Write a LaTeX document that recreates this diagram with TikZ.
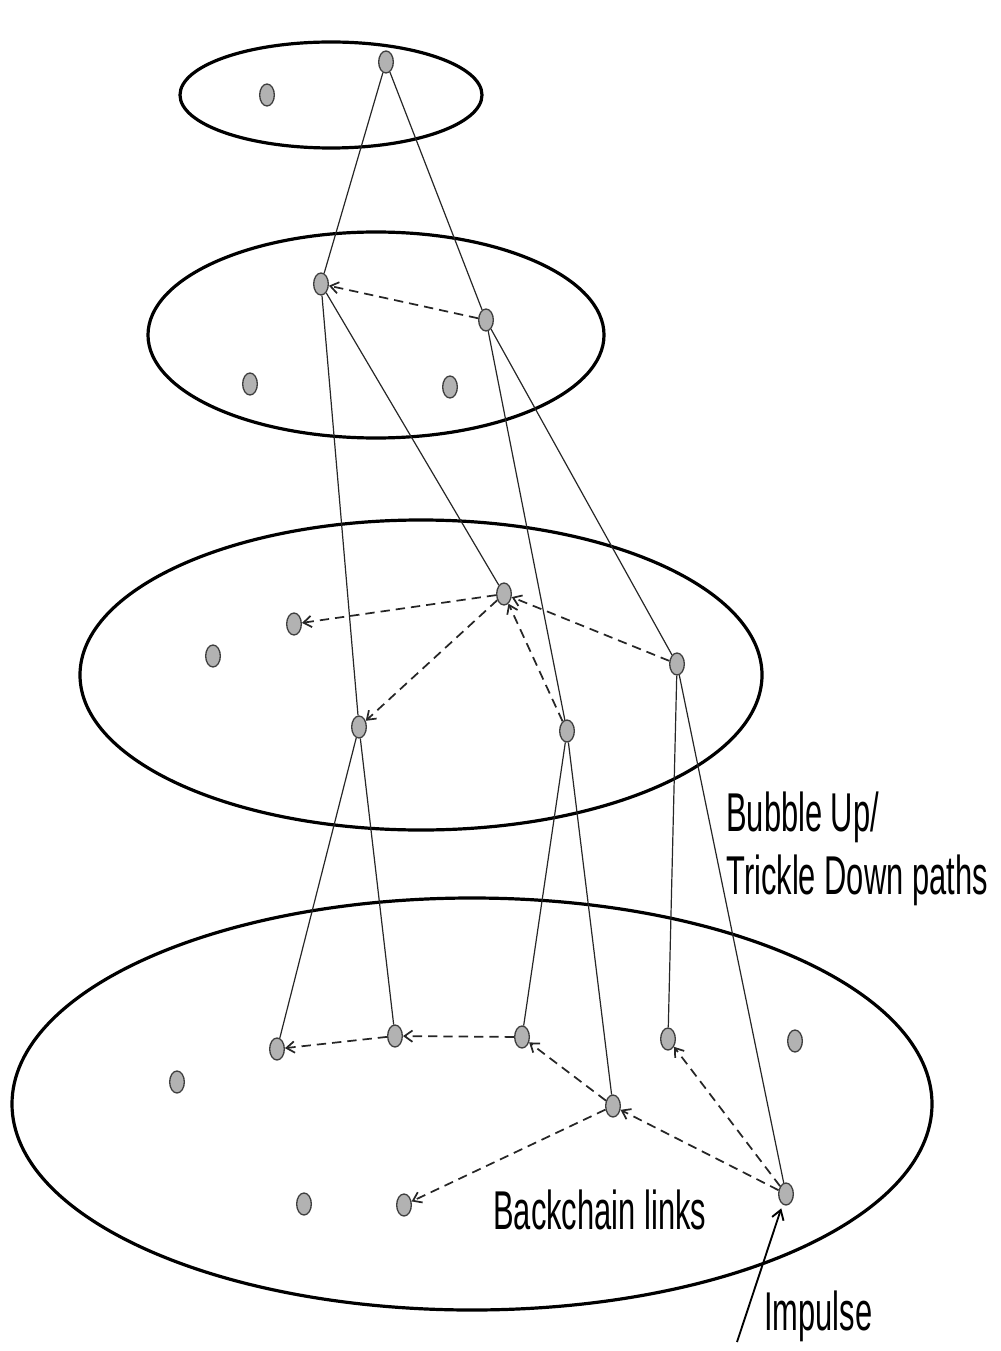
\documentclass[tikz,border=0pt]{standalone}
\usepackage{fontspec}
\usetikzlibrary{shapes.geometric,arrows.meta}
\newfontfamily\labfont[FakeStretch=0.565]{Liberation Sans}
\begin{document}
\begin{tikzpicture}[x=0.75pt,y=-0.75pt,
  pt/.style={ellipse,draw=black!75,line width=1pt,fill=gray!60,minimum width=11pt,minimum height=16.5pt,inner sep=0pt},
  ring/.style={line width=2.4pt},
  link/.style={line width=0.9pt,black!85},
  back/.style={line width=1.3pt,dash pattern=on 7pt off 4.5pt,-{Straight Barb[length=6pt,width=8.5pt]},black!85},
  lab/.style={font=\labfont\fontsize{41}{48}\selectfont,inner sep=0pt}]
\useasboundingbox (0,0) rectangle (1000,1351);
% rings
\draw[ring] (331,95) ellipse [x radius=151, y radius=53];
\draw[ring] (376,335) ellipse [x radius=228, y radius=103];
\draw[ring] (421,675) ellipse [x radius=341, y radius=155];
\draw[ring] (472,1104) ellipse [x radius=460, y radius=206];
% nodes
\node[pt] (A1) at (386,62) {};
\node[pt] (A2) at (267,95) {};
\node[pt] (B1) at (321,284) {};
\node[pt] (B2) at (486,320) {};
\node[pt] (B3) at (250,384) {};
\node[pt] (B4) at (450,387) {};
\node[pt] (C1) at (504,594) {};
\node[pt] (C2) at (294,624) {};
\node[pt] (C3) at (213,656) {};
\node[pt] (C4) at (677,664) {};
\node[pt] (C5) at (359,727) {};
\node[pt] (C6) at (567,731) {};
\node[pt] (D1) at (277,1049) {};
\node[pt] (D2) at (395,1036) {};
\node[pt] (D3) at (522,1037) {};
\node[pt] (D4) at (668,1039) {};
\node[pt] (D5) at (795,1041) {};
\node[pt] (D6) at (177,1082) {};
\node[pt] (D7) at (613,1106) {};
\node[pt] (D8) at (304,1204) {};
\node[pt] (D9) at (404,1205) {};
\node[pt] (D10) at (786,1194) {};
% solid paths
\draw[link] (A1) -- (B1);
\draw[link] (A1) -- (B2);
\draw[link] (B1) -- (C5);
\draw[link] (B1) -- (C1);
\draw[link] (B2) -- (C6);
\draw[link] (B2) -- (C4);
\draw[link] (C5) -- (D1);
\draw[link] (C5) -- (D2);
\draw[link] (C6) -- (D3);
\draw[link] (C6) -- (D7);
\draw[link] (C4) -- (D4);
\draw[link] (C4) -- (D10);
% backchain links
\draw[back] (B2) -- (B1);
\draw[back] (C1) -- (C2);
\draw[back] (C1) -- (C5);
\draw[back] (C4) -- (C1);
\draw[back] (C6) -- (C1);
\draw[back] (D2) -- (D1);
\draw[back] (D3) -- (D2);
\draw[back] (D7) -- (D3);
\draw[back] (D7) -- (D9);
\draw[back] (D10) -- (D7);
\draw[back] (D10) -- (D4);
% impulse
\coordinate (imp) at (737,1342);
\draw[line width=1.4pt,-{Straight Barb[length=7pt,width=9pt]},shorten >=3pt] (imp) -- (D10);
% labels
\node[lab,anchor=base west] (t1) at (726,831) {Bubble Up/};
\node[lab,anchor=base west] (t2) at (726,894) {Trickle Down paths};
\node[lab,anchor=base west] (t3) at (493,1229) {Backchain links};
\node[lab,anchor=base west] (t4) at (764,1330) {Impulse};
\end{tikzpicture}
\end{document}
